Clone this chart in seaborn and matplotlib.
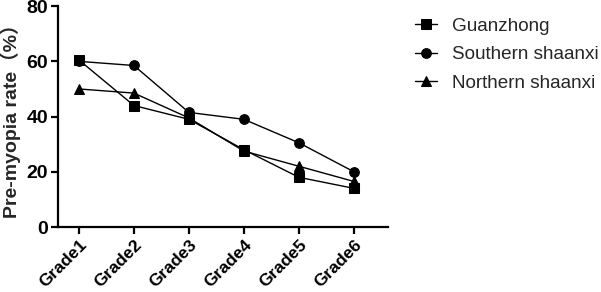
import numpy as np
import pandas as pd
import matplotlib
matplotlib.use("Agg")
import matplotlib.pyplot as plt
import seaborn as sns

grades = ["Grade1", "Grade2", "Grade3", "Grade4", "Grade5", "Grade6"]
guanzhong = [60.5, 44.0, 39.0, 28.0, 18.0, 14.0]
southern = [60.0, 58.5, 41.5, 39.0, 30.5, 20.0]
northern = [50.0, 48.5, 39.5, 27.5, 22.0, 16.5]
series_names = ["Guanzhong", "Southern shaanxi", "Northern shaanxi"]
y_ticks = [0, 20, 40, 60, 80]

sns.set_style("ticks")
plt.rcParams['font.family'] = ['Liberation Sans', 'Noto Sans CJK SC', 'DejaVu Sans']

df = pd.DataFrame({
    "grade": grades * 3,
    "x": list(range(len(grades))) * 3,
    "rate": guanzhong + southern + northern,
    "region": [series_names[0]] * 6 + [series_names[1]] * 6 + [series_names[2]] * 6,
})

fig = plt.figure(figsize=(6.01, 2.92), dpi=100)
ax = fig.add_axes([0.0965, 0.2226, 0.5491, 0.7564])

markers = {"Guanzhong": "s", "Southern shaanxi": "o", "Northern shaanxi": "^"}
zorders = {"Guanzhong": 5, "Southern shaanxi": 3, "Northern shaanxi": 4}
for name in series_names:
    sub = df[df["region"] == name]
    sns.lineplot(data=sub, x="x", y="rate", ax=ax, color="black", linewidth=1.0,
                 marker=markers[name], markersize=7, markeredgecolor="black",
                 label=name, zorder=zorders[name], legend=False)

lines = ax.get_lines()
fig.legend(lines[:3], series_names, loc="upper left", bbox_to_anchor=(0.674, 0.972),
           frameon=False, borderpad=0, handlelength=1.2, handletextpad=0.8,
           labelspacing=0.6, prop={'family': ['Liberation Sans', 'DejaVu Sans'], 'size': 13.6})

ax.set_xlim(-0.38, 5.62)
ax.set_ylim(0, 80)
ax.set_yticks(y_ticks)
ax.set_xticks(range(len(grades)))
ax.set_xticklabels(grades, rotation=45, ha="right", rotation_mode="anchor",
                   fontsize=12.5, fontweight="bold")
for lbl in ax.get_yticklabels():
    lbl.set_fontsize(14)
    lbl.set_fontweight("bold")
ax.set_xlabel("")
ax.set_ylabel("Pre-myopia rate（%）", fontsize=14, fontweight="bold", labelpad=4)
sns.despine(ax=ax)
for s in ["left", "bottom"]:
    ax.spines[s].set_linewidth(1.6)
    ax.spines[s].set_color("black")
ax.tick_params(axis="both", width=1.6, length=5, color="black", labelcolor="black", pad=2)
ax.grid(False)

fig.savefig("out.png", dpi=100)
